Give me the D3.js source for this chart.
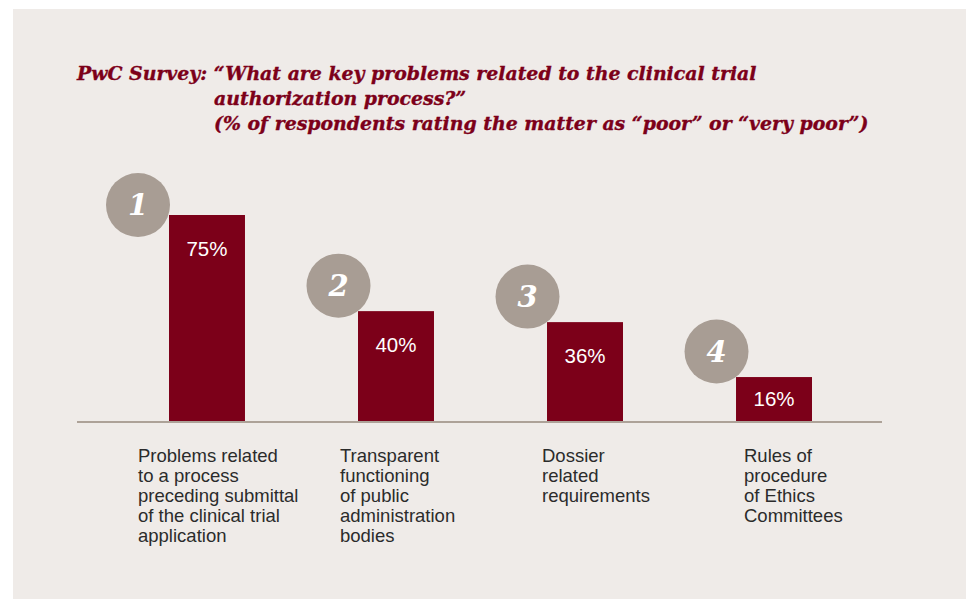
<!DOCTYPE html>
<html>
<head>
<meta charset="utf-8">
<script src="https://cdn.jsdelivr.net/npm/d3@7"></script>
<style>
  body { margin: 0; background: #fff; }
  svg { display: block; }
</style>
</head>
<body>
<div id="chart"></div>
<script>
// data
const ranks = ["1", "2", "3", "4"];
const values = [75, 40, 36, 16];
const categories = [
  ["Problems related", "to a process", "preceding submittal", "of the clinical trial", "application"],
  ["Transparent", "functioning", "of public", "administration", "bodies"],
  ["Dossier", "related", "requirements"],
  ["Rules of", "procedure", "of Ethics", "Committees"]
];
const titleLines = [
  "PwC Survey: \u201CWhat are key problems related to the clinical trial",
  "authorization process?\u201D",
  "(% of respondents rating the matter as \u201Cpoor\u201D or \u201Cvery poor\u201D)"
];

const W = 968, H = 599;
const red = "#7c0019", grey = "#a89d94";

const svg = d3.select("#chart").append("svg")
  .attr("width", W).attr("height", H);

svg.append("rect")
  .attr("x", 13).attr("y", 9)
  .attr("width", 953).attr("height", H - 9)
  .attr("fill", "#efebe8");

// title
const title = svg.append("g")
  .attr("font-family", "'DejaVu Serif', serif")
  .attr("font-weight", "bold")
  .attr("font-style", "italic")
  .attr("fill", red)
  .attr("stroke", red)
  .attr("stroke-width", 0.35);

const t1 = title.append("text").attr("x", 77).attr("y", 80)
  .attr("font-size", 20).text(titleLines[0]);
// scale the font so the first line spans like the original
let fs = 20 * 680 / t1.node().getComputedTextLength();
t1.attr("font-size", fs);
title.append("text").attr("x", 214).attr("y", 105).attr("font-size", fs).text(titleLines[1]);
title.append("text").attr("x", 214).attr("y", 130).attr("font-size", fs).text(titleLines[2]);

// scales
const idx = d3.range(values.length);
const x = d3.scaleBand().domain(idx).range([169, 812]).paddingInner(0.598).paddingOuter(0).align(0);
const y = d3.scaleLinear().domain([0, 75]).range([421, 215]);
const xLab = d3.scalePoint().domain(idx).range([138, 744]);

// bars
svg.selectAll("rect.bar").data(values).enter().append("rect")
  .attr("class", "bar")
  .attr("x", (d, i) => x(i))
  .attr("y", d => y(d))
  .attr("width", x.bandwidth())
  .attr("height", d => y(0) - y(d))
  .attr("fill", red);

// baseline
svg.append("line")
  .attr("x1", 77).attr("x2", 882)
  .attr("y1", y(0) + 1).attr("y2", y(0) + 1)
  .attr("stroke", "#ada298").attr("stroke-width", 2);

// value labels
svg.selectAll("text.val").data(values).enter().append("text")
  .attr("class", "val")
  .attr("x", (d, i) => x(i) + x.bandwidth() / 2)
  .attr("y", d => Math.min(y(d) + 41, (y(d) + y(0)) / 2 + 7))
  .attr("text-anchor", "middle")
  .attr("font-family", "'Liberation Sans', Arial, sans-serif")
  .attr("font-size", 20.5)
  .attr("fill", "#fff")
  .text(d => d + "%");

// rank badges, the first one is pushed down below the title
const badge = svg.selectAll("g.badge").data(values).enter().append("g")
  .attr("class", "badge")
  .attr("transform", (d, i) => {
    const cx = x(i) - (i === 0 ? 31 : 19.5);
    const cy = i === 0 ? y(d) - 10 : y(d) - 25.5;
    return `translate(${cx},${cy})`;
  });
badge.append("circle").attr("r", 32).attr("fill", grey);
badge.append("text")
  .attr("y", 10)
  .attr("text-anchor", "middle")
  .attr("font-family", "'DejaVu Serif', serif")
  .attr("font-weight", "bold")
  .attr("font-style", "italic")
  .attr("font-size", 29)
  .attr("fill", "#fff")
  .text((d, i) => ranks[i]);

// category labels
const cat = svg.selectAll("text.cat").data(categories).enter().append("text")
  .attr("class", "cat")
  .attr("x", (d, i) => xLab(i))
  .attr("y", 462)
  .attr("font-family", "'Liberation Sans', Arial, sans-serif")
  .attr("font-size", 18.5)
  .attr("fill", "#2b2b2b");
cat.selectAll("tspan").data(d => d).enter().append("tspan")
  .attr("x", function () { return this.parentNode.getAttribute("x"); })
  .attr("dy", (d, j) => j === 0 ? 0 : 20)
  .text(d => d);
</script>
</body>
</html>
